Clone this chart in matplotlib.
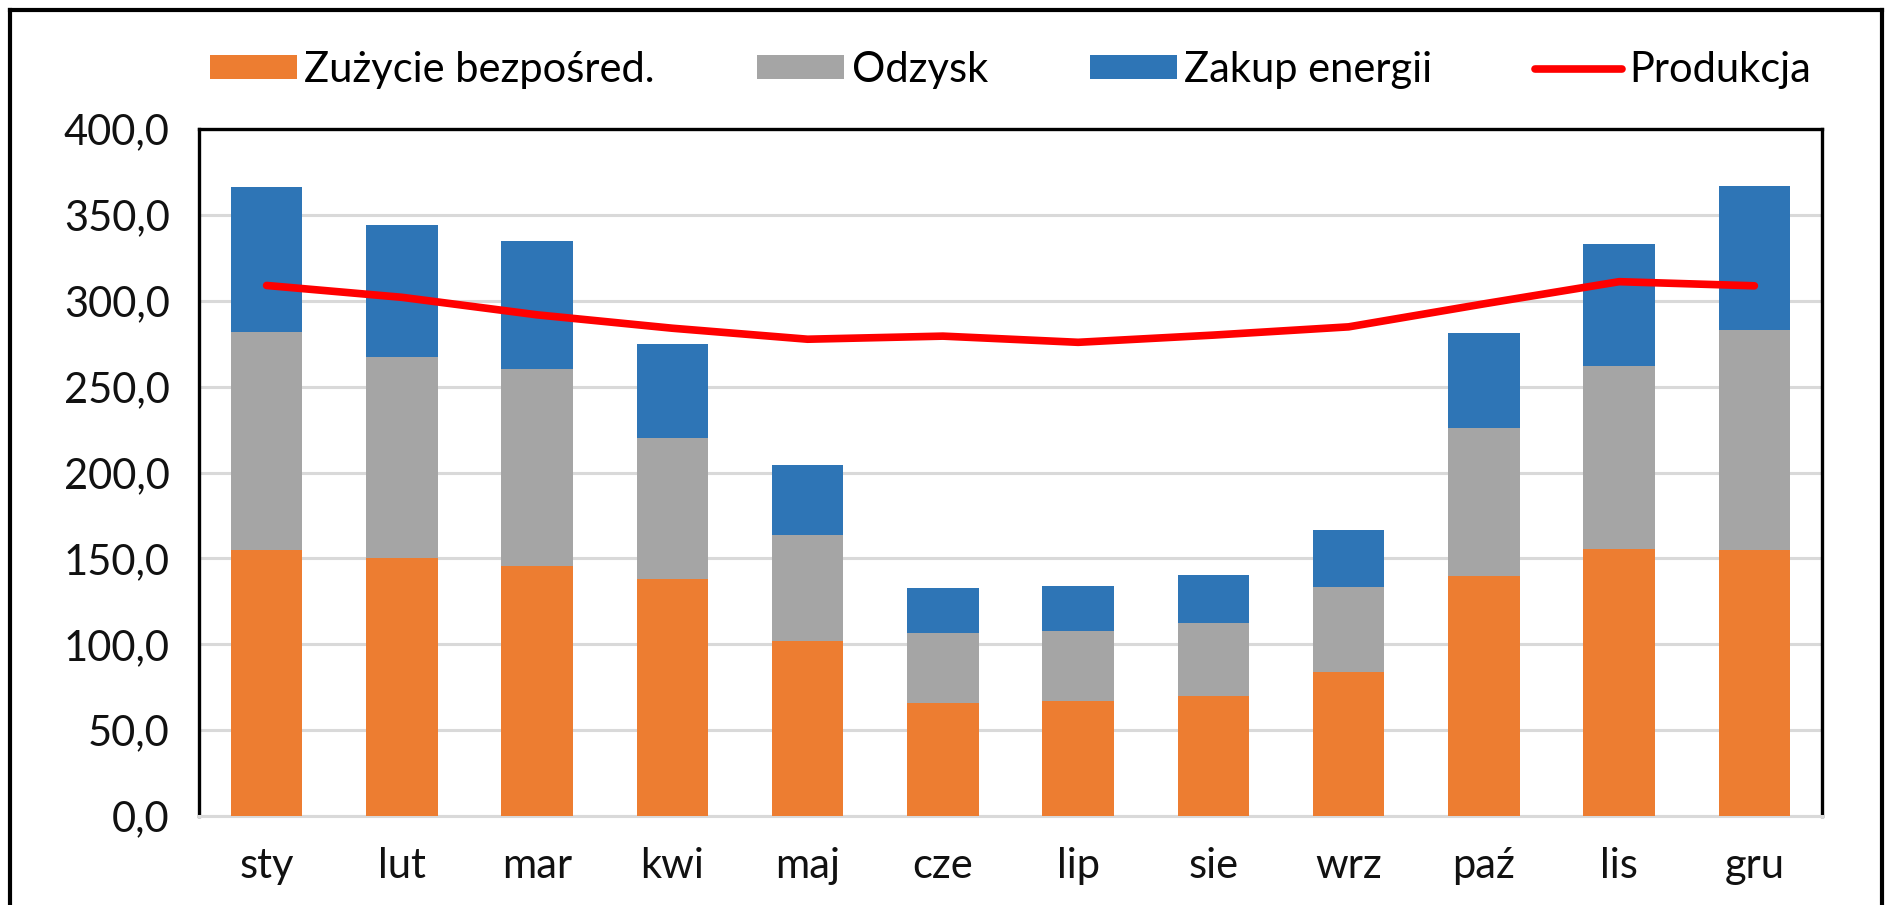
import numpy as np
import matplotlib.pyplot as plt
from matplotlib.lines import Line2D

plt.rcParams['font.family'] = ['Lato', 'DejaVu Sans']

months = ['sty', 'lut', 'mar', 'kwi', 'maj', 'cze', 'lip', 'sie', 'wrz', 'paź', 'lis', 'gru']
zuzycie = [155.0, 150.0, 145.3, 138.1, 101.9, 65.7, 66.7, 70.0, 83.8, 140.0, 155.5, 154.6]
odzysk = [126.7, 117.1, 114.7, 82.2, 61.6, 40.8, 41.0, 42.6, 49.3, 85.8, 106.5, 128.1]
zakup = [84.5, 77.1, 74.5, 54.8, 40.8, 26.5, 26.5, 27.5, 33.5, 55.4, 70.9, 84.3]
produkcja = [308.9, 302.0, 291.8, 284.0, 277.6, 279.4, 275.8, 280.0, 284.8, 298.2, 311.1, 308.7]

W, H = 1888, 905
fig = plt.figure(figsize=(W / 100, H / 100), dpi=100)
fig.patch.set_facecolor('white')

# obszar wykresu w pikselach
left, right, top, bottom = 199, 1822, 129, 816
ax = fig.add_axes([left / W, 1 - bottom / H, (right - left) / W, (bottom - top) / H])

x = np.arange(len(months))
bw = 0.53
b1 = np.array(zuzycie)
b2 = b1 + np.array(odzysk)
h1 = ax.bar(x, zuzycie, bw, color='#ED7D31', label='Zużycie bezpośred.', zorder=3)
h2 = ax.bar(x, odzysk, bw, bottom=b1, color='#A5A5A5', label='Odzysk', zorder=3)
h3 = ax.bar(x, zakup, bw, bottom=b2, color='#2E75B6', label='Zakup energii', zorder=3)
h4, = ax.plot(x, produkcja, color='#FF0000', lw=5.5, solid_capstyle='round', label='Produkcja', zorder=4)

ax.set_xlim(-0.5, len(months) - 0.5)
ax.set_ylim(0, 400)
ax.set_yticks(np.arange(0, 401, 50))
ax.set_yticklabels([f'{v:.1f}'.replace('.', ',') for v in np.arange(0, 401, 50)])
ax.set_xticks(x)
ax.set_xticklabels(months)
ax.tick_params(axis='both', length=0, labelsize=30, colors='#111111')
ax.tick_params(axis='y', pad=21)
ax.tick_params(axis='x', pad=22)
ax.yaxis.grid(True, color='#D9D9D9', lw=2.2, zorder=0)
ax.set_axisbelow(True)

for s in ['left', 'top', 'right']:
    ax.spines[s].set_color('black')
    ax.spines[s].set_linewidth(2.4)
ax.spines['bottom'].set_color('#D9D9D9')
ax.spines['bottom'].set_linewidth(2.2)

# legenda wyśrodkowana nad obszarem wykresu
fig.legend([h1, h2, h3, h4], ['Zużycie bezpośred.', 'Odzysk', 'Zakup energii', 'Produkcja'],
           loc='center', bbox_to_anchor=((left + right) / 2 / W, 1 - 70 / H), ncol=4, frameon=False,
           fontsize=30, handlelength=2.1, handleheight=0.52, handletextpad=0.17,
           columnspacing=2.45)

# ramka zewnętrzna
lw = 3
fig.add_artist(Line2D([10 / W, 10 / W], [0, 1 - 10 / H], color='black', lw=lw))
fig.add_artist(Line2D([10 / W, 1882 / W], [1 - 10 / H, 1 - 10 / H], color='black', lw=lw))
fig.add_artist(Line2D([1882 / W, 1882 / W], [0, 1 - 10 / H], color='black', lw=lw))

fig.savefig('out.png', dpi=100)
